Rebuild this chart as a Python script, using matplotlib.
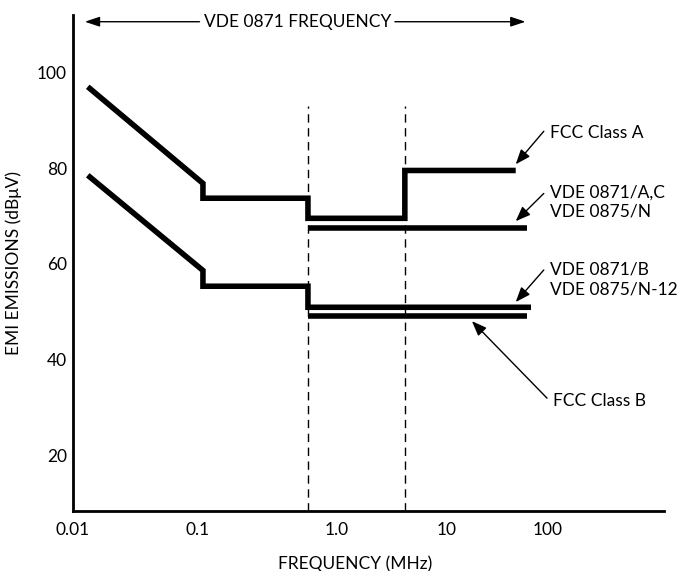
import numpy as np
import matplotlib
matplotlib.use('Agg')
import matplotlib.pyplot as plt

plt.rcParams['font.family'] = ['Lato', 'DejaVu Sans']

# limit curves as drawn (frequency in MHz, level in dBuV)
upper_f = [0.0132, 0.109, 0.109, 0.62, 0.62, 4.15, 4.15, 48]
upper_db = [97, 76.8, 73.7, 73.7, 69.5, 69.5, 79.5, 79.5]
vde_ac_f = [0.62, 62]
vde_ac_db = [67.5, 67.5]
lower_f = [0.0132, 0.109, 0.109, 0.62, 0.62, 68]
lower_db = [78.5, 58.6, 55.3, 55.3, 50.9, 50.9]
fcc_b_f = [0.62, 62]
fcc_b_db = [49, 49]
marker_f = [0.62, 4.15]

x_ticks = [0.01, 0.1, 1.0, 10, 100]
x_tick_labels = ['0.01', '0.1', '1.0', '10', '100']
y_ticks = [20, 40, 60, 80, 100]

# the printed axis is not evenly spaced per decade
decades = [-3, -2, -1, 0, 1, 2, 3, 4]
knots = [-125, 0, 125, 264, 374, 475, 576, 677]


def fwd(x):
    x = np.clip(np.asarray(x, dtype=float), 1e-9, None)
    return np.interp(np.log10(x), decades, knots)


def inv(p):
    return 10 ** np.interp(p, knots, decades)


fig = plt.figure(figsize=(6.83, 5.71), dpi=100)
ax = fig.add_axes([0.1064, 0.105, 0.866, 0.8687])
ax.set_xscale('function', functions=(fwd, inv))

line_kw = dict(color='black', lw=4, solid_capstyle='butt', solid_joinstyle='miter')
ax.plot(upper_f, upper_db, **line_kw)
ax.plot(vde_ac_f, vde_ac_db, **line_kw)
ax.plot(lower_f, lower_db, **line_kw)
ax.plot(fcc_b_f, fcc_b_db, **line_kw)

for f in marker_f:
    ax.plot([f, f], [8.3, 93], color='black', lw=1, ls=(0, (6, 4)))

ax.set_xlim(0.01, 10 ** 3.15)
ax.set_ylim(8.3, 112)
ax.set_xticks(x_ticks)
ax.set_xticklabels(x_tick_labels)
ax.set_yticks(y_ticks)
ax.minorticks_off()
ax.tick_params(length=0, labelsize=12.5)
ax.tick_params(axis='x', pad=8)
ax.tick_params(axis='y', pad=4)

for s in ['top', 'right']:
    ax.spines[s].set_visible(False)
for s in ['left', 'bottom']:
    ax.spines[s].set_linewidth(2)

ax.set_ylabel('EMI EMISSIONS (dBμV)', fontsize=12.5, labelpad=11)
ax.set_xlabel('FREQUENCY (MHz)', fontsize=12.5)
ax.xaxis.set_label_coords(0.477, -0.089)

# VDE frequency span
ax.text(0.52, 110.6, 'VDE 0871 FREQUENCY', ha='center', va='center', fontsize=12.5)
span_kw = dict(arrowstyle='-|>,head_length=0.9,head_width=0.3', color='black', lw=1,
               shrinkA=0, shrinkB=0)
ax.annotate('', xy=(0.0125, 110.6), xytext=(0.103, 110.6), arrowprops=span_kw)
ax.annotate('', xy=(60, 110.6), xytext=(3.37, 110.6), arrowprops=span_kw)

# curve labels
arr_kw = dict(arrowstyle='-|>,head_length=0.9,head_width=0.35', color='black', lw=1,
              shrinkA=0, shrinkB=0)
ax.annotate('', xy=(48, 80.8), xytext=(91, 87.7), arrowprops=arr_kw)
ax.annotate('', xy=(48, 68.9), xytext=(91, 74.7), arrowprops=arr_kw)
ax.annotate('', xy=(48, 52.0), xytext=(91, 58.7), arrowprops=arr_kw)
ax.annotate('', xy=(17.7, 48.0), xytext=(98, 31.9), arrowprops=arr_kw)

ax.text(105, 87.3, 'FCC Class A', ha='left', va='center', fontsize=12.5)
ax.text(105, 72.9, 'VDE 0871/A,C\nVDE 0875/N', ha='left', va='center',
        fontsize=12.5, linespacing=1.25)
ax.text(105, 56.7, 'VDE 0871/B\nVDE 0875/N-12', ha='left', va='center',
        fontsize=12.5, linespacing=1.25)
ax.text(112, 31.3, 'FCC Class B', ha='left', va='center', fontsize=12.5)

fig.savefig('out.png', dpi=100)
